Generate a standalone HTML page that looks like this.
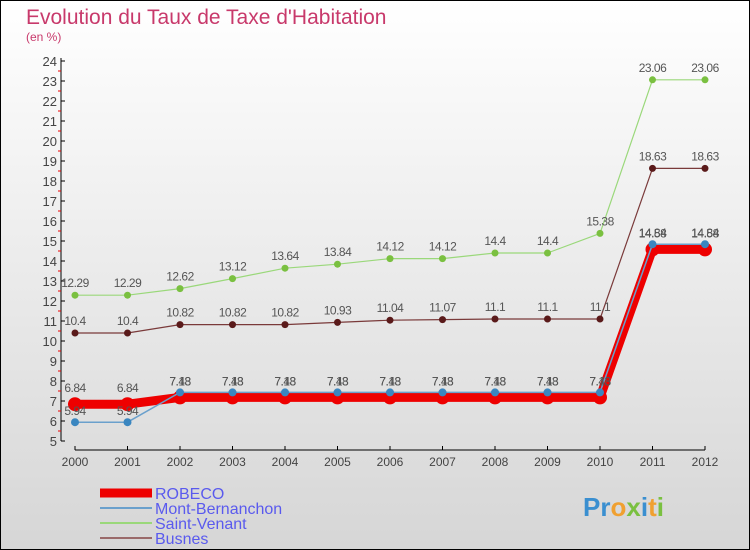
<!DOCTYPE html>
<html><head><meta charset="utf-8"><style>
body{margin:0}
svg{display:block;font-family:"Liberation Sans","DejaVu Sans",sans-serif}
</style></head><body>
<svg id="chart" width="750" height="550" viewBox="0 0 750 550">
<defs><linearGradient id="bg" x1="0" y1="0" x2="0" y2="1"><stop offset="0" stop-color="#ffffff"/><stop offset="1" stop-color="#d6d6d6"/></linearGradient></defs>
<rect x="0.5" y="0.5" width="749" height="549" fill="url(#bg)" stroke="#000"/>
<text x="26" y="24" font-size="21" fill="#c8396b">Evolution du Taux de Taxe d'Habitation</text>
<text x="26" y="41" font-size="12" fill="#c8396b">(en %)</text>
<g id="axes"></g>
<g id="series"></g>
<g id="legend" font-size="16" fill="#5a5aee"></g>
<g font-size="26" font-weight="bold">
<text x="583" y="516"><tspan fill="#3a8fd0">Pr</tspan><tspan fill="#f0a030">o</tspan><tspan fill="#7ac040">x</tspan><tspan fill="#3a8fd0">i</tspan><tspan fill="#f0a030">t</tspan><tspan fill="#7ac040">i</tspan></text>
</g>
</svg>
<script>
const years=[2000,2001,2002,2003,2004,2005,2006,2007,2008,2009,2010,2011,2012];
const robeco=[6.84,6.84,7.18,7.18,7.18,7.18,7.18,7.18,7.18,7.18,7.18,14.58,14.58];
const montBernanchon=[5.94,5.94,7.43,7.43,7.43,7.43,7.43,7.43,7.43,7.43,7.43,14.84,14.84];
const saintVenant=[12.29,12.29,12.62,13.12,13.64,13.84,14.12,14.12,14.4,14.4,15.38,23.06,23.06];
const busnes=[10.4,10.4,10.82,10.82,10.82,10.93,11.04,11.07,11.1,11.1,11.1,18.63,18.63];
const yTicks=[5,6,7,8,9,10,11,12,13,14,15,16,17,18,19,20,21,22,23,24];
const NS='http://www.w3.org/2000/svg';
const x=i=>75+i*52.5;
const y=v=>61+(24-v)*20;
function mk(tag,attrs,parent,txt){const e=document.createElementNS(NS,tag);for(const k in attrs)e.setAttribute(k,attrs[k]);if(txt!==undefined)e.textContent=txt;parent.appendChild(e);return e;}
const axes=document.getElementById('axes');
let a=mk('line',{x1:61,y1:58,x2:61,y2:y(5),stroke:'#000'},axes);


a=mk('line',{x1:x(0),y1:450,x2:x(12),y2:450,stroke:'#000'},axes);


yTicks.forEach(v=>{
 mk('line',{x1:61,y1:y(v),x2:65,y2:y(v),stroke:'#000'},axes);
 if(v<24)mk('line',{x1:58,y1:y(v+0.5),x2:61,y2:y(v+0.5),stroke:'#e00'},axes);
 const t=mk('text',{x:57,y:y(v)+5,'text-anchor':'end','font-size':13,fill:'#444'},axes,String(v));
 
 
});
years.forEach((yr,i)=>{
 mk('line',{x1:x(i),y1:446,x2:x(i),y2:450,stroke:'#000'},axes);
 const t=mk('text',{x:x(i),y:466,'text-anchor':'middle','font-size':12,fill:'#444'},axes,String(yr));
 
 
});
const ser=document.getElementById('series');
function draw(name,vals,color,w,r,dot,labelDy){
 const g=mk('g',{},ser);
 
 
 const p=mk('polyline',{points:vals.map((v,i)=>x(i)+','+y(v)).join(' '),fill:'none',stroke:color,'stroke-width':w,'stroke-linejoin':'round'},g);
 
 
 vals.forEach((v,i)=>{
  const c=mk('circle',{cx:x(i),cy:y(v),r:r,fill:dot},g);
  
  
  const t=mk('text',{x:x(i),y:y(v)+labelDy,'text-anchor':'middle','font-size':12,fill:'#555','letter-spacing':'-0.5'},g,String(v));
  
  
 });
}
draw('saint-venant',saintVenant,'#9ad87a',1.2,3.5,'#7ac040',-8);
draw('busnes',busnes,'#7a3a3a',1.2,3.5,'#5a1a1a',-8);
draw('robeco',robeco,'#ee0000',9,7,'#ee0000',-12);
draw('mont-bernanchon',montBernanchon,'#6aa0cc',1.5,4,'#3a86c0',-7);
const lg=document.getElementById('legend');
const items=[['ROBECO','#ee0000',9],['Mont-Bernanchon','#6aa0cc',2],['Saint-Venant','#9ad87a',2],['Busnes','#9a6a6a',2]];
items.forEach((it,i)=>{
 const yy=493+i*15;
 const g=mk('g',{},lg);
 
 
 mk('line',{x1:100,y1:yy,x2:152,y2:yy,stroke:it[1],'stroke-width':it[2]},g);
 mk('text',{x:155,y:yy+6},g,it[0]);
});
</script>
</body></html>
